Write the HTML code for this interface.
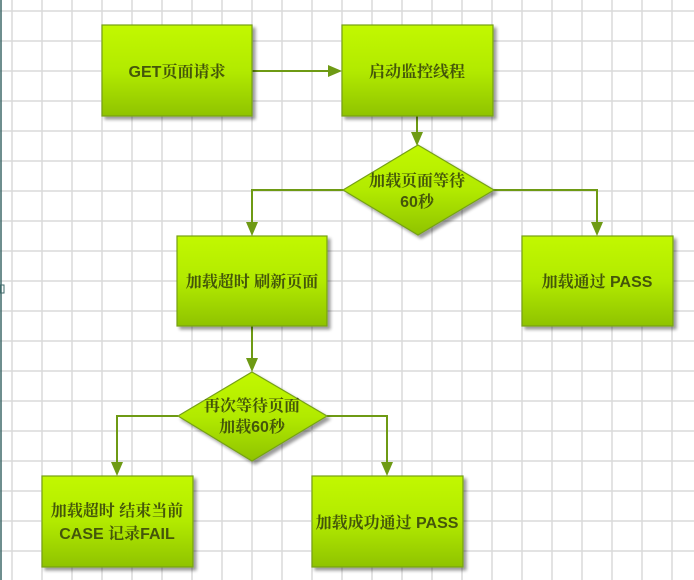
<!DOCTYPE html>
<html><head><meta charset="utf-8">
<style>
html,body{margin:0;padding:0;background:#fff;}
svg{display:block;}
text{font-family:"Liberation Sans","Noto Serif CJK SC",serif;font-weight:bold;font-size:16px;fill:#44560a;text-anchor:middle;}
</style></head>
<body>
<svg width="694" height="580" viewBox="0 0 694 580" xmlns="http://www.w3.org/2000/svg">
<defs>
<linearGradient id="g" x1="0" y1="0" x2="0" y2="1">
<stop offset="0" stop-color="#c2f800"/>
<stop offset="0.5" stop-color="#b2ea00"/>
<stop offset="1" stop-color="#8fc300"/>
</linearGradient>
<filter id="sh" x="-10%" y="-10%" width="130%" height="130%">
<feGaussianBlur in="SourceAlpha" stdDeviation="1.5"/>
<feOffset dx="3" dy="3" result="o"/>
<feComponentTransfer><feFuncA type="linear" slope="0.4"/></feComponentTransfer>
<feMerge><feMergeNode/><feMergeNode in="SourceGraphic"/></feMerge>
</filter>
</defs>
<rect width="694" height="580" fill="#fff"/>
<g stroke="#dadada" stroke-width="1.5">
<line x1="12" y1="0" x2="12" y2="580"/><line x1="42" y1="0" x2="42" y2="580"/><line x1="72" y1="0" x2="72" y2="580"/><line x1="102" y1="0" x2="102" y2="580"/><line x1="132" y1="0" x2="132" y2="580"/><line x1="162" y1="0" x2="162" y2="580"/><line x1="192" y1="0" x2="192" y2="580"/><line x1="222" y1="0" x2="222" y2="580"/><line x1="252" y1="0" x2="252" y2="580"/><line x1="282" y1="0" x2="282" y2="580"/><line x1="312" y1="0" x2="312" y2="580"/><line x1="342" y1="0" x2="342" y2="580"/><line x1="372" y1="0" x2="372" y2="580"/><line x1="402" y1="0" x2="402" y2="580"/><line x1="432" y1="0" x2="432" y2="580"/><line x1="462" y1="0" x2="462" y2="580"/><line x1="492" y1="0" x2="492" y2="580"/><line x1="522" y1="0" x2="522" y2="580"/><line x1="552" y1="0" x2="552" y2="580"/><line x1="582" y1="0" x2="582" y2="580"/><line x1="612" y1="0" x2="612" y2="580"/><line x1="642" y1="0" x2="642" y2="580"/><line x1="672" y1="0" x2="672" y2="580"/>
<line x1="0" y1="11" x2="694" y2="11"/><line x1="0" y1="41" x2="694" y2="41"/><line x1="0" y1="71" x2="694" y2="71"/><line x1="0" y1="101" x2="694" y2="101"/><line x1="0" y1="131" x2="694" y2="131"/><line x1="0" y1="161" x2="694" y2="161"/><line x1="0" y1="191" x2="694" y2="191"/><line x1="0" y1="221" x2="694" y2="221"/><line x1="0" y1="251" x2="694" y2="251"/><line x1="0" y1="281" x2="694" y2="281"/><line x1="0" y1="311" x2="694" y2="311"/><line x1="0" y1="341" x2="694" y2="341"/><line x1="0" y1="371" x2="694" y2="371"/><line x1="0" y1="401" x2="694" y2="401"/><line x1="0" y1="431" x2="694" y2="431"/><line x1="0" y1="461" x2="694" y2="461"/><line x1="0" y1="491" x2="694" y2="491"/><line x1="0" y1="521" x2="694" y2="521"/><line x1="0" y1="551" x2="694" y2="551"/>
</g>
<line x1="1" y1="0" x2="1" y2="580" stroke="#3e6868" stroke-width="1.5"/>
<rect x="0" y="285" width="4" height="8" fill="none" stroke="#3e6868" stroke-width="1"/>

<g stroke="#6e9a14" stroke-width="2" fill="none">
<polyline points="252,71 330,71"/>
<polyline points="417,116 417,134"/>
<polyline points="343,190 252,190 252,224"/>
<polyline points="493,190 597,190 597,224"/>
<polyline points="252,326 252,360"/>
<polyline points="178,416 117,416 117,464"/>
<polyline points="327,416 387,416 387,464"/>
</g>
<g fill="#6e9a14">
<polygon points="342,71 328,65 328,77"/>
<polygon points="417,146 411,132 423,132"/>
<polygon points="252,236 246,222 258,222"/>
<polygon points="597,236 591,222 603,222"/>
<polygon points="252,372 246,358 258,358"/>
<polygon points="117,476 111,462 123,462"/>
<polygon points="387,476 381,462 393,462"/>
</g>

<g fill="url(#g)" stroke="#76a018" stroke-width="1.2" filter="url(#sh)">
<rect x="102" y="25" width="150" height="91"/>
<rect x="342" y="25" width="151" height="91"/>
<polygon points="418,145 494,190 418,235 343,190"/>
<rect x="177" y="236" width="150" height="90"/>
<rect x="522" y="236" width="151" height="90"/>
<polygon points="252,372 327,416 252,461 178,416"/>
<rect x="42" y="476" width="151" height="91"/>
<rect x="312" y="476" width="151" height="91"/>
</g>

<text x="177" y="77">GET页面请求</text>
<text x="417" y="77">启动监控线程</text>
<text x="417" y="186">加载页面等待</text>
<text x="417" y="207">60秒</text>
<text x="252" y="287">加载超时 刷新页面</text>
<text x="597" y="287">加载通过 PASS</text>
<text x="252" y="411">再次等待页面</text>
<text x="252" y="432">加载60秒</text>
<text x="117" y="516">加载超时 结束当前</text>
<text x="117" y="539">CASE 记录FAIL</text>
<text x="387" y="528">加载成功通过 PASS</text>
</svg>
</body></html>
